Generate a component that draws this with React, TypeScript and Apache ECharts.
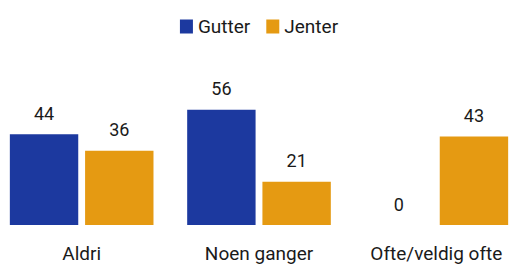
import React, { useEffect, useRef } from "react";
import * as echarts from "echarts";

const categories = ["Aldri", "Noen ganger", "Ofte/veldig ofte"];
const gutter = [44, 56, 0];
const jenter = [36, 21, 43];
const seriesNames = ["Gutter", "Jenter"];

export default function App() {
  const ref = useRef<HTMLDivElement>(null);
  useEffect(() => {
    const chart = echarts.init(ref.current!, null, { renderer: "svg" });
    const font = "Roboto, 'Noto Sans', sans-serif";
    const label = {
      show: true,
      position: "top",
      distance: 12,
      fontSize: 18,
      color: "#1a1a1a",
      fontFamily: font,
    };
    chart.setOption({
      animation: false,
      legend: {
        top: 12,
        left: "center",
        itemWidth: 13,
        itemHeight: 14,
        itemGap: 16,
        icon: "rect",
        textStyle: { fontSize: 19, color: "#1a1a1a", fontFamily: font },
        data: seriesNames,
      },
      grid: { left: 0, right: 0, top: 19, bottom: 42 },
      xAxis: {
        type: "category",
        data: categories,
        axisLine: { show: false },
        axisTick: { show: false },
        axisLabel: {
          fontSize: 19,
          color: "#1a1a1a",
          margin: 19,
          fontFamily: font,
        },
      },
      yAxis: {
        type: "value",
        min: 0,
        max: 100,
        show: false,
      },
      series: [
        {
          name: seriesNames[0],
          type: "bar",
          data: gutter,
          itemStyle: { color: "#1c399f" },
          barGap: "10%",
          barCategoryGap: "19%",
          label,
        },
        {
          name: seriesNames[1],
          type: "bar",
          data: jenter,
          itemStyle: { color: "#e59a12" },
          barGap: "10%",
          barCategoryGap: "19%",
          label,
        },
      ],
    });
    return () => chart.dispose();
  }, []);
  return (
    <div
      style={{
        position: "absolute",
        left: 0,
        top: 0,
        width: 512,
        height: 267,
        overflow: "hidden",
        background: "#fff",
      }}
    >
      <div
        ref={ref}
        style={{ position: "absolute", left: -7, top: 0, width: 532, height: 267 }}
      />
    </div>
  );
}
